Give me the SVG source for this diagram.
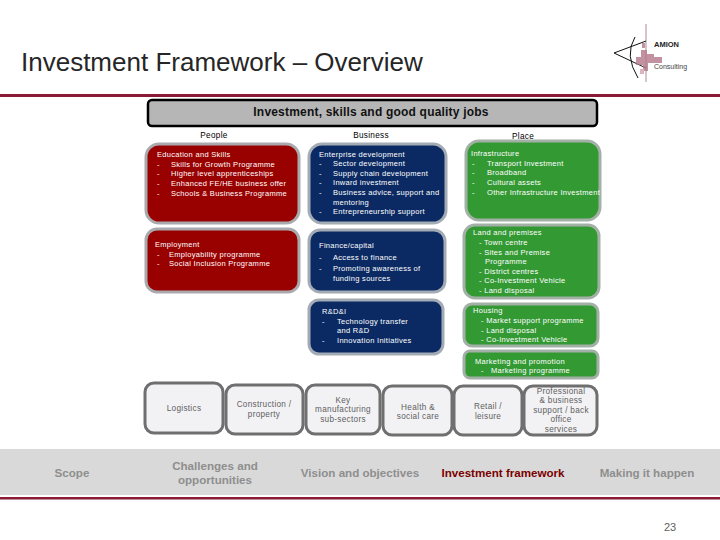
<svg xmlns="http://www.w3.org/2000/svg" width="720" height="540" viewBox="0 0 720 540">
<style>
text{font-family:"Liberation Sans",Arial,sans-serif}
.w{fill:#fff;font-size:7.5px;letter-spacing:.3px}
.k{fill:#000;font-size:8.2px;letter-spacing:.3px}
.g{fill:#5e5e5e;font-size:8.2px;letter-spacing:.3px;text-anchor:middle}
.n{font-size:11.6px;font-weight:bold;fill:#8e8e8e;text-anchor:middle}
.r{fill:#990000;stroke:#a9aaad;stroke-width:3}
.b{fill:#0b2a63;stroke:#a3abb5;stroke-width:3}
.e{fill:#339933;stroke:#a3b0a6;stroke-width:3}
.s{fill:#f2f2f5;stroke:#6f6f6f;stroke-width:3}
</style>
<rect width="720" height="540" fill="#fff"/>
<text id="title" x="21" y="71" font-size="26" fill="#262626">Investment Framework – Overview</text>
<rect x="0" y="94" width="720" height="3" fill="#8a1a35"/>
<g id="logo">
<path d="M646 24V82" stroke="#b08a94" stroke-width="1" fill="none"/>
<path d="M646 41L614 53L646 68M635 37Q624 55 638 78" stroke="#111" stroke-width="1" fill="none"/>
<path d="M642 43h3v5h-3zM641 50h6v4h7v3h8v6h-14v8h-5v-6h-7v-8h5z" fill="#b4778a" opacity=".8"/>
<rect x="640" y="69" width="4" height="5" fill="#d8b4bf"/>
<text x="654" y="47" font-size="7.5" font-weight="bold" fill="#222">AMION</text>
<text x="654" y="69" font-size="7" fill="#444">Consulting</text>
</g>
<g id="banner">
<rect x="148" y="100" width="449" height="26" rx="4" fill="#b6b6b6" stroke="#000" stroke-width="2.5"/>
<text x="371" y="116" font-size="12" font-weight="bold" letter-spacing=".2" text-anchor="middle" fill="#111">Investment, skills and good quality jobs</text>
</g>
<g id="heads">
<text class="k" x="214" y="138" text-anchor="middle">People</text>
<text class="k" x="371" y="138" text-anchor="middle">Business</text>
<text class="k" x="523" y="139" text-anchor="middle">Place</text>
</g>
<g id="education-skills">
<rect class="r" x="146" y="144" width="153" height="79" rx="13"/>
<text class="w" x="157" y="157">Education and Skills</text>
<text class="w" x="157" y="167">-</text><text class="w" x="171" y="167">Skills for Growth Programme</text>
<text class="w" x="157" y="176">-</text><text class="w" x="171" y="176">Higher level apprenticeships</text>
<text class="w" x="157" y="186">-</text><text class="w" x="171" y="186">Enhanced FE/HE business offer</text>
<text class="w" x="157" y="196">-</text><text class="w" x="171" y="196">Schools &amp; Business Programme</text>
</g>
<g id="employment">
<rect class="r" x="146" y="229" width="153" height="63" rx="11"/>
<text class="w" x="155" y="247">Employment</text>
<text class="w" x="157" y="257">-</text><text class="w" x="169" y="257">Employability programme</text>
<text class="w" x="157" y="266">-</text><text class="w" x="169" y="266">Social Inclusion Programme</text>
</g>
<g id="enterprise">
<rect class="b" x="309" y="144" width="137" height="79" rx="13"/>
<text class="w" x="319" y="157">Enterprise development</text>
<text class="w" x="319" y="166">-</text><text class="w" x="333" y="166">Sector development</text>
<text class="w" x="319" y="176">-</text><text class="w" x="333" y="176">Supply chain development</text>
<text class="w" x="319" y="185">-</text><text class="w" x="333" y="185">Inward investment</text>
<text class="w" x="319" y="195">-</text><text class="w" x="333" y="195">Business advice, support and</text>
<text class="w" x="333" y="205">mentoring</text>
<text class="w" x="319" y="214">-</text><text class="w" x="333" y="214">Entrepreneurship support</text>
</g>
<g id="finance">
<rect class="b" x="309" y="230" width="136" height="62" rx="11"/>
<text class="w" x="319" y="248">Finance/capital</text>
<text class="w" x="319" y="260">-</text><text class="w" x="333" y="260">Access to finance</text>
<text class="w" x="319" y="271">-</text><text class="w" x="333" y="271">Promoting awareness of</text>
<text class="w" x="333" y="281">funding sources</text>
</g>
<g id="rdi">
<rect class="b" x="309" y="300" width="134" height="54" rx="10"/>
<text class="w" x="322" y="314">R&amp;D&amp;I</text>
<text class="w" x="322" y="324">-</text><text class="w" x="337" y="324">Technology transfer</text>
<text class="w" x="337" y="333">and R&amp;D</text>
<text class="w" x="322" y="343">-</text><text class="w" x="337" y="343">Innovation Initiatives</text>
</g>
<g id="infrastructure">
<rect class="e" x="466" y="141" width="134" height="79" rx="13"/>
<text class="w" x="471" y="156">Infrastructure</text>
<text class="w" x="472" y="166">-</text><text class="w" x="487" y="166">Transport Investment</text>
<text class="w" x="472" y="175">-</text><text class="w" x="487" y="175">Broadband</text>
<text class="w" x="472" y="185">-</text><text class="w" x="487" y="185">Cultural assets</text>
<text class="w" x="472" y="195">-</text><text class="w" x="487" y="195">Other Infrastructure Investment</text>
</g>
<g id="land">
<rect class="e" x="464" y="225" width="135" height="73" rx="11"/>
<text class="w" x="473" y="235">Land and premises</text>
<text class="w" x="479" y="245">- Town centre</text>
<text class="w" x="479" y="255">- Sites and Premise</text>
<text class="w" x="485" y="264">Programme</text>
<text class="w" x="479" y="274">- District centres</text>
<text class="w" x="479" y="283">- Co-Investment Vehicle</text>
<text class="w" x="479" y="293">- Land disposal</text>
</g>
<g id="housing">
<rect class="e" x="464" y="304" width="134" height="42" rx="8"/>
<text class="w" x="473" y="313">Housing</text>
<text class="w" x="481" y="323">- Market support programme</text>
<text class="w" x="481" y="333">- Land disposal</text>
<text class="w" x="481" y="342">- Co-Investment Vehicle</text>
</g>
<g id="marketing">
<rect class="e" x="464" y="351" width="134" height="27" rx="6"/>
<text class="w" x="475" y="364">Marketing and promotion</text>
<text class="w" x="481" y="373">-</text><text class="w" x="491" y="373">Marketing programme</text>
</g>
<g id="logistics">
<rect class="s" x="145" y="383" width="78" height="50" rx="9"/>
<text class="g" x="184" y="411">Logistics</text>
</g>
<g id="construction">
<rect class="s" x="226" y="385" width="77" height="49" rx="9"/>
<text class="g" x="264" y="407">Construction /</text><text class="g" x="264" y="417">property</text>
</g>
<g id="manufacturing">
<rect class="s" x="306" y="385" width="74" height="49" rx="9"/>
<text class="g" x="343" y="403">Key</text><text class="g" x="343" y="412">manufacturing</text><text class="g" x="343" y="422">sub-sectors</text>
</g>
<g id="health">
<rect class="s" x="383" y="386" width="69" height="49" rx="9"/>
<text class="g" x="418" y="410">Health &amp;</text><text class="g" x="418" y="419">social care</text>
</g>
<g id="retail">
<rect class="s" x="454" y="386" width="68" height="49" rx="9"/>
<text class="g" x="488" y="409">Retail /</text><text class="g" x="488" y="419">leisure</text>
</g>
<g id="professional">
<rect class="s" x="524" y="386" width="73" height="49" rx="9"/>
<text class="g" x="561" y="394">Professional</text><text class="g" x="561" y="403">&amp; business</text><text class="g" x="561" y="413">support / back</text><text class="g" x="561" y="422">office</text><text class="g" x="561" y="432">services</text>
</g>
<g id="nav">
<rect x="0" y="449" width="720" height="46" fill="#d9d9d9"/>
<rect x="0" y="497" width="720" height="2.5" fill="#8a1a35"/>
<text class="n" x="72" y="477">Scope</text>
<text class="n" x="215" y="470">Challenges and</text>
<text class="n" x="215" y="484">opportunities</text>
<text class="n" x="360" y="477">Vision and objectives</text>
<text class="n" x="503" y="477" style="fill:#7a0000">Investment framework</text>
<text class="n" x="647" y="477">Making it happen</text>
</g>
<text id="page" x="670" y="531" font-size="11" text-anchor="middle" fill="#5e5e5e">23</text>
</svg>
